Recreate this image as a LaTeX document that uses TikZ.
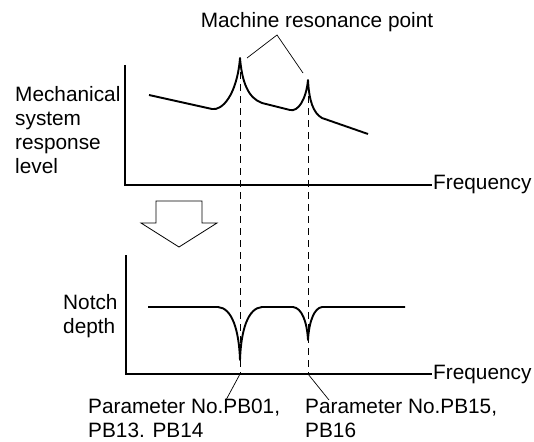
\documentclass[tikz,border=0pt]{standalone}
\usepackage{fontspec}
\setmainfont{Liberation Sans}
\begin{document}
\begin{tikzpicture}[x=1pt,y=-1pt,
  lbl/.style={inner sep=0pt,font=\fontsize{20.8}{24}\selectfont},
  axis/.style={line width=1.3pt},
  curve/.style={line width=1.9pt,line join=round},
  guide/.style={line width=1pt,dash pattern=on 7pt off 5pt},
  leader/.style={line width=0.7pt},
  hollow/.style={line width=0.8pt,fill=white}]
\useasboundingbox (0,0) rectangle (534,441);
% top chart
\coordinate (t0) at (125,65);
\coordinate (to) at (125,185);
\coordinate (tx) at (432,185);
\draw[axis] (t0) -- (to) -- (tx);
\node[lbl,anchor=west] (f1) at (433,185) {Frequency};
\node[lbl,anchor=base west,align=left] (ylab) at (15,173) {Mechanical\\system\\response\\level};
\draw[curve] (149,95) -- (212,109) .. controls (222,111) and (237,95) .. (240,58)
  .. controls (242,82) and (248,98) .. (262,103) -- (290,110)
  .. controls (298,112) and (306,100) .. (308,80)
  .. controls (309,100) and (313,113) .. (322,118) -- (368,134);
% resonance label
\node[lbl,anchor=base] (res) at (317,28) {Machine resonance point};
\coordinate (la) at (247,58);
\coordinate (lm) at (277,35);
\coordinate (lb) at (303,73);
\draw[leader] (la) -- (lm) -- (lb);
% hollow arrow
\draw[hollow] (156,201) -- (202,201) -- (202,223) -- (217,223) -- (179,247) -- (141,223) -- (156,223) -- cycle;
% bottom chart
\coordinate (b0) at (126,255);
\coordinate (bo) at (126,374);
\coordinate (bx) at (432,374);
\draw[axis] (b0) -- (bo) -- (bx);
\node[lbl,anchor=west] (f2) at (433,374) {Frequency};
\node[lbl,anchor=base west,align=left] (nlab) at (63,333) {Notch\\depth};
\draw[curve] (148,307) -- (218,307) .. controls (232,308) and (239,330) .. (240,360)
  .. controls (241,330) and (248,308) .. (262,307) -- (293,307)
  .. controls (302,308) and (307,322) .. (308,340)
  .. controls (309,322) and (314,308) .. (322,307) -- (405,307);
% guides
\coordinate (g1t) at (240,72);
\coordinate (g1b) at (240,374);
\coordinate (g2t) at (308,96);
\coordinate (g2b) at (308,374);
\draw[guide] (g1t) -- (g1b);
\draw[guide] (g2t) -- (g2b);
% parameter labels
\node[lbl,anchor=base west,align=left] (p1) at (88,437) {Parameter No.PB01,\\PB13. PB14};
\node[lbl,anchor=base west,align=left] (p2) at (305,437) {Parameter No.PB15,\\PB16};
\coordinate (p1e) at (226,400);
\coordinate (p2e) at (329,400);
\draw[leader] (g1b) -- (p1e);
\draw[leader] (g2b) -- (p2e);
\end{tikzpicture}
\end{document}
